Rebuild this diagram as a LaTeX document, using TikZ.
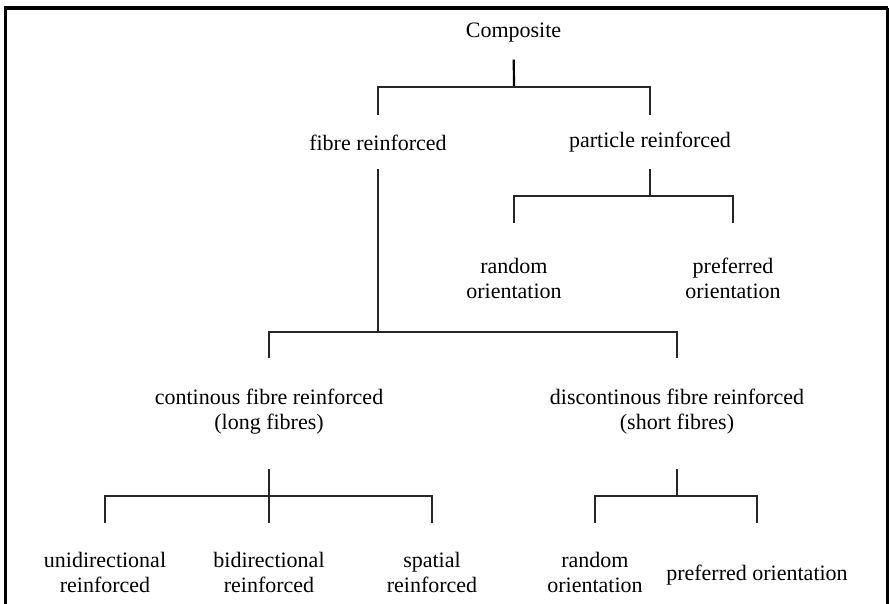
\documentclass[tikz,border=0pt]{standalone}
\usepackage{fontspec}
\setmainfont{Liberation Serif}
\usepackage{tikz}
\tikzset{
  lbl/.style= {inner sep=0, outer sep=0, align=center, font=\fontsize{22}{25}\selectfont},
  link/.style= {draw=black!85, line width=1.2pt},
  stem/.style= {draw=black, line width=2.2pt},
  frame/.style= {draw=black, line width=3.5pt},
}

\begin{document}
\begin{tikzpicture}[x=1pt, y=-1pt]
  \useasboundingbox (0,0) rectangle (889,604) ;
  \draw [frame] (5.5,604) -- (5.5,8.2) -- (888,8.2) ;
  \draw [frame, line width=2.5pt] (887.3,8.2) -- (887.3,604) ;

  \node [lbl] (comp) at (513.5,33) {Composite} ;
  \node [lbl] (fibre) at (378,142.5) {fibre reinforced} ;
  \node [lbl] (part) at (650,142) {particle reinforced} ;
  \node [lbl] (rnd) at (514,278) {random\\orientation} ;
  \node [lbl] (pref) at (733,278) {preferred\\orientation} ;
  \node [lbl] (cont) at (269,412) {continous fibre reinforced\\(long fibres)} ;
  \node [lbl] (disc) at (677,412) {discontinous fibre reinforced\\(short fibres)} ;
  \node [lbl] (uni) at (105,572) {unidirectional\\reinforced} ;
  \node [lbl] (bi) at (269,572) {bidirectional\\reinforced} ;
  \node [lbl] (spat) at (432,572) {spatial\\reinforced} ;
  \node [lbl] (drnd) at (595,572) {random\\orientation} ;
  \node [lbl] (dpref) at (757,575) {preferred orientation} ;

  \coordinate (c0) at (514,87) ;
  \coordinate (c1) at (650,196) ;
  \coordinate (c2) at (378,332) ;
  \coordinate (c3) at (269,496) ;
  \coordinate (c4) at (677,496) ;

  % Composite
  \draw [stem, shorten <=17pt] (comp) -- (c0) ;
  \draw [link, shorten <=20pt, shorten >=17pt] (fibre) |- (c0) -| (part) ;
  % particle reinforced
  \draw [link, shorten <=17pt] (part) -- (c1) ;
  \draw [link, shorten <=35pt, shorten >=35pt] (rnd) |- (c1) -| (pref) ;
  % fibre reinforced
  \draw [link, shorten <=19pt] (fibre) -- (c2) ;
  \draw [link, shorten <=31pt, shorten >=31pt] (cont) |- (c2) -| (disc) ;
  % long fibres
  \draw [link, shorten <=34pt, shorten >=29pt] (cont) -- (bi) ;
  \draw [link, shorten <=29pt, shorten >=29pt] (uni) |- (c3) -| (spat) ;
  % short fibres
  \draw [link, shorten <=34pt] (disc) -- (c4) ;
  \draw [link, shorten <=29pt, shorten >=42pt] (drnd) |- (c4) -| (dpref) ;
\end{tikzpicture}
\end{document}
